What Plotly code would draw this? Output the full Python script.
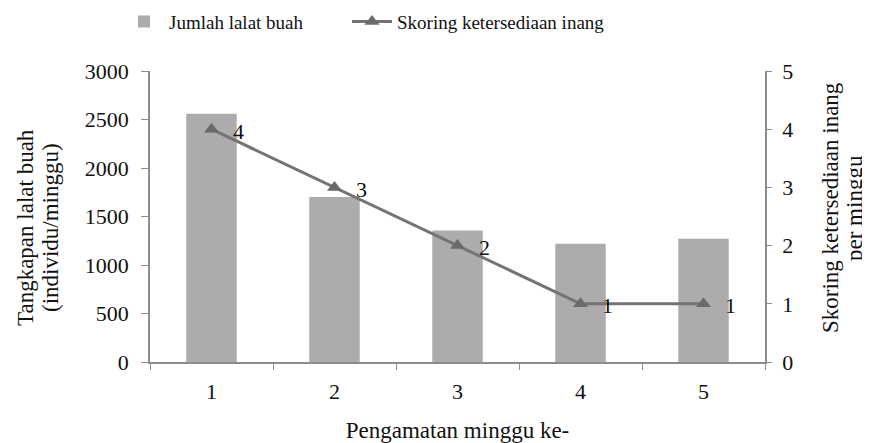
import plotly.graph_objects as go

weeks = ["1", "2", "3", "4", "5"]
flies = [2560, 1700, 1355, 1220, 1270]
score = [4, 3, 2, 1, 1]
score_labels = ["4", "3", "2", "1", "1"]

FONT = "Liberation Serif, Times New Roman, serif"
# page body has an 8px margin, so the figure is laid out in a 862x435 box
W, H = 862, 435
L, R, T, B = 142, 105, 63, 81
pw = W - L - R
ph = H - T - B

def px_to_paper(px, py):
    # px, py are page pixel coordinates of the reference image
    return (px - 8 - L) / pw, (H - B - (py - 8)) / ph

fig = go.Figure()
fig.add_trace(go.Bar(
    x=weeks, y=flies, name="Jumlah lalat buah",
    marker=dict(color="#adabab", line=dict(width=0)),
    yaxis="y", legend="legend",
))
fig.add_trace(go.Scatter(
    x=weeks, y=score, name="Skoring ketersediaan inang",
    mode="lines+markers",
    line=dict(color="#747474", width=3),
    marker=dict(symbol="triangle-up", size=13, color="#6a6a6a"),
    yaxis="y2", cliponaxis=False, legend="legend2",
))

tick_font = dict(family=FONT, size=22, color="#111")
title_font = dict(family=FONT, size=23, color="#111")
leg_font = dict(family=FONT, size=19, color="#111")

lx1, _ = px_to_paper(132 - 13, 0)
lx2, _ = px_to_paper(347, 0)

# data labels placed at category index positions
annotations = [
    dict(x=i, y=s, text=t, xref="x", yref="y2", showarrow=False,
         xshift=27, yshift=-2, font=dict(family=FONT, size=22, color="#111"))
    for i, (s, t) in enumerate(zip(score, score_labels))
]

def vtitle(text, px, py):
    x, y = px_to_paper(px, py)
    return dict(text=text, x=x, y=y, xref="paper", yref="paper", showarrow=False,
                textangle=-90, xanchor="center", yanchor="middle", font=title_font)

annotations += [
    vtitle("Tangkapan lalat buah", 25, 228),
    vtitle("(individu/minggu)", 50, 228),
    vtitle("Skoring ketersediaan inang", 830, 208),
    vtitle("per minggu", 854, 208),
]

fig.update_layout(
    width=W, height=H,
    margin=dict(l=L, r=R, t=T, b=B, autoexpand=False),
    paper_bgcolor="white", plot_bgcolor="white",
    bargap=0.59,
    font=dict(family=FONT, size=20, color="#111"),
    showlegend=True,
    legend=dict(orientation="h", x=lx1, y=0.925, xanchor="left", yanchor="bottom",
                xref="paper", yref="container", font=leg_font, itemwidth=40),
    legend2=dict(orientation="h", x=lx2, y=0.925, xanchor="left", yanchor="bottom",
                 xref="paper", yref="container", font=leg_font, itemwidth=40),
    xaxis=dict(type="category", range=[-0.5, len(weeks) - 0.5], automargin=False,
               showline=True, linecolor="#8c8c8c", linewidth=1.5,
               ticks="outside", ticklen=6, tickcolor="#8c8c8c", tickson="boundaries",
               tickfont=tick_font, showgrid=False, zeroline=False, ticklabelstandoff=9,
               title=dict(text="Pengamatan minggu ke-", font=title_font, standoff=21)),
    yaxis=dict(range=[0, 3000], dtick=500, showline=True, linecolor="#8c8c8c", linewidth=1.5,
               ticks="outside", ticklen=7, tickcolor="#8c8c8c", tickfont=tick_font,
               showgrid=False, zeroline=False, ticklabelstandoff=8, automargin=False),
    yaxis2=dict(range=[0, 5], dtick=1, overlaying="y", side="right", showline=True,
                linecolor="#8c8c8c", linewidth=1.5, ticks="outside", ticklen=5,
                tickcolor="#8c8c8c", tickfont=tick_font, showgrid=False, zeroline=False,
                ticklabelstandoff=6, automargin=False),
    annotations=annotations,
)
fig.write_html("out.html")
